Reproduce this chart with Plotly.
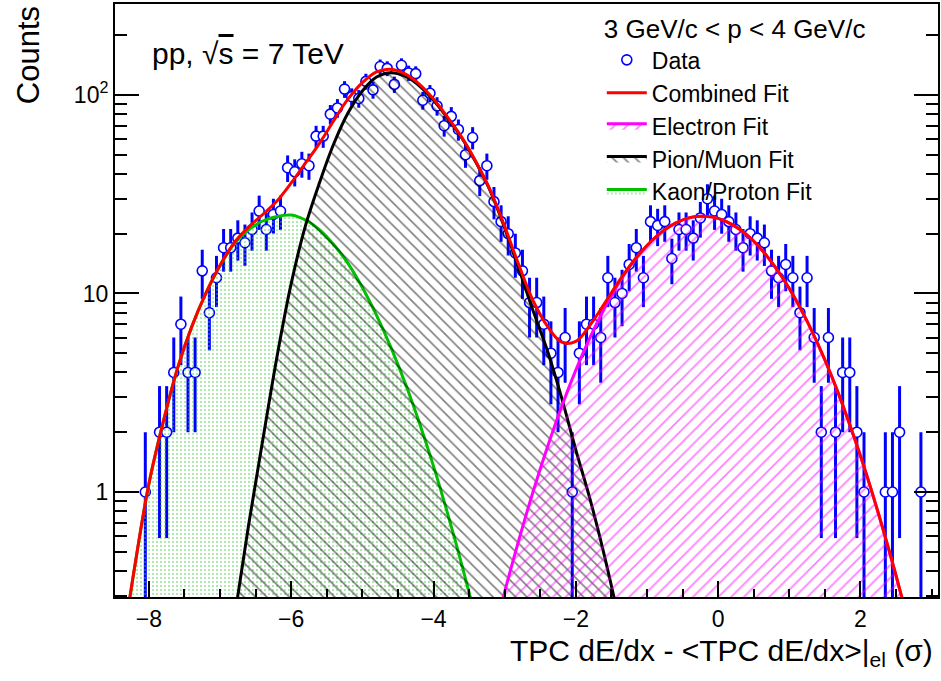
import plotly.graph_objects as go

# ---------------- data ----------------
bin_centers = [-8.05, -7.95, -7.85, -7.75, -7.65, -7.55, -7.45, -7.35, -7.25, -7.15,
               -7.05, -6.95, -6.85, -6.75, -6.65, -6.55, -6.45, -6.35, -6.25, -6.15,
               -6.05, -5.95, -5.85, -5.75, -5.65, -5.55, -5.45, -5.35, -5.25, -5.15,
               -5.05, -4.95, -4.85, -4.75, -4.65, -4.55, -4.45, -4.35, -4.25, -4.15,
               -4.05, -3.95, -3.85, -3.75, -3.65, -3.55, -3.45, -3.35, -3.25, -3.15,
               -3.05, -2.95, -2.85, -2.75, -2.65, -2.55, -2.45, -2.35, -2.25, -2.15,
               -2.05, -1.95, -1.85, -1.75, -1.65, -1.55, -1.45, -1.35, -1.25, -1.15,
               -1.05, -0.95, -0.85, -0.75, -0.65, -0.55, -0.45, -0.35, -0.25, -0.15,
               -0.05, 0.05, 0.15, 0.25, 0.35, 0.45, 0.55, 0.65, 0.75, 0.85,
               0.95, 1.05, 1.15, 1.25, 1.35, 1.45, 1.55, 1.65, 1.75, 1.85,
               1.95, 2.05, 2.15, 2.25, 2.35, 2.45, 2.55, 2.65, 2.75, 2.85]
counts = [1, 0, 2, 2, 4, 7, 4, 4, 13, 8,
          12, 17, 17, 19, 18, 21, 26, 21, 25, 26,
          43, 41, 45, 44, 62, 62, 80, 86, 107, 98,
          96, 117, 106, 139, 136, 113, 141, 129, 128, 94,
          102, 88, 70, 78, 67, 50, 61, 37, 44, 29,
          23, 20, 16, 13, 9, 9, 7, 5, 4, 6,
          1, 5, 7, 7, 6, 12, 9, 10, 14, 17,
          12, 23, 22, 23, 15, 21, 21, 19, 24, 30,
          26, 25, 23, 21, 17, 20, 19, 18, 13, 12,
          14, 12, 8, 12, 6, 2, 6, 2, 4, 4,
          2, 1, 0, 0, 1, 1, 2, 0, 0, 1]

fit_x = [-8.4, -8.2, -8.0, -7.8, -7.6, -7.4, -7.2, -7.0, -6.8, -6.6,
         -6.4, -6.2, -6.0, -5.8, -5.6, -5.4, -5.2, -5.0, -4.8, -4.6,
         -4.4, -4.2, -4.0, -3.8, -3.6, -3.4, -3.2, -3.0, -2.8, -2.6,
         -2.4, -2.2, -2.0, -1.8, -1.6, -1.4, -1.2, -1.0, -0.8, -0.6,
         -0.4, -0.2, 0.0, 0.2, 0.4, 0.6, 0.8, 1.0, 1.2, 1.4,
         1.6, 1.8, 2.0, 2.2, 2.4, 2.6, 2.8]
kaon_fit = [0.141, 0.417, 1.096, 2.239, 4.169, 6.761, 10.0, 13.8, 17.78, 20.89,
            23.17, 24.43, 24.83, 23.44, 20.89, 17.58, 14.13, 10.72, 7.76, 5.37,
            3.55, 2.24, 1.35, 0.776, 0.427, 0.224, 0.112, 0.054, 0.025, 0.011,
            0.004, 0.0015, 0.001, 0.001, 0.001, 0.001, 0.001, 0.001, 0.001, 0.001,
            0.001, 0.001, 0.001, 0.001, 0.001, 0.001, 0.001, 0.001, 0.001, 0.001,
            0.001, 0.001, 0.001, 0.001, 0.001, 0.001, 0.001]
pion_fit = [0.001, 0.001, 0.001, 0.001, 0.001, 0.0044, 0.018, 0.068, 0.229, 0.676,
            1.82, 4.79, 11.2, 21.9, 36.3, 56.9, 81.3, 104.7, 123.0, 129.4,
            124.2, 111.2, 94.0, 76.2, 60.5, 45.5, 32.7, 21.4, 13.3, 8.17,
            5.16, 2.99, 1.63, 0.92, 0.481, 0.233, 0.109, 0.048, 0.02, 0.008,
            0.003, 0.001, 0.001, 0.001, 0.001, 0.001, 0.001, 0.001, 0.001, 0.001,
            0.001, 0.001, 0.001, 0.001, 0.001, 0.001, 0.001]
electron_fit = [0.001, 0.001, 0.001, 0.001, 0.001, 0.001, 0.001, 0.001, 0.001, 0.001,
                0.001, 0.001, 0.001, 0.001, 0.001, 0.001, 0.001, 0.001, 0.001, 0.001,
                0.001, 0.003, 0.007, 0.017, 0.039, 0.082, 0.164, 0.314, 0.574, 1.005,
                1.68, 2.69, 4.11, 6.0, 8.38, 11.2, 14.3, 17.4, 20.3, 22.6,
                24.1, 24.5, 23.9, 22.2, 19.8, 16.8, 13.6, 10.6, 7.87, 5.58,
                3.79, 2.45, 1.52, 0.90, 0.51, 0.277, 0.143]
combined_fit = [e + p + k for e, p, k in zip(electron_fit, pion_fit, kaon_fit)]

y_tick_vals = [1, 10, 100]
y_tick_text = ["1", "10", "10<sup>2</sup>"]
y_minor_vals = [0.3, 0.4, 0.5, 0.6, 0.7, 0.8, 0.9, 2, 3, 4, 5, 6, 7, 8, 9,
                20, 30, 40, 50, 60, 70, 80, 90, 200]
x_tick_vals = [-8, -6, -4, -2, 0, 2]

# only non-empty bins are drawn (as ROOT does on a log scale)
data_x = [x for x, c in zip(bin_centers, counts) if c > 0]
data_y = [c for c in counts if c > 0]
data_err = [c ** 0.5 for c in data_y]

FONT = "Liberation Sans, Arial, Helvetica, sans-serif"

fig = go.Figure()

fig.add_trace(go.Scatter(
    x=data_x, y=data_y, mode="markers", name="Data", legendrank=1,
    marker=dict(symbol="circle", size=10, color="white",
                line=dict(color="#0000ff", width=1.6)),
    error_y=dict(type="data", array=data_err, color="#0000ff", thickness=3, width=0),
))

fig.add_trace(go.Scatter(
    x=fit_x, y=kaon_fit, mode="lines", name="Kaon/Proton Fit", legendrank=5,
    line=dict(color="#00c000", width=3, shape="spline"),
    fill="tozeroy", fillcolor="rgba(0,0,0,0)",
    fillpattern=dict(shape=".", fgcolor="#33cc33", bgcolor="rgba(0,0,0,0)",
                     size=4, solidity=0.22),
))

fig.add_trace(go.Scatter(
    x=fit_x, y=pion_fit, mode="lines", name="Pion/Muon Fit", legendrank=4,
    line=dict(color="black", width=3, shape="spline"),
    fill="tozeroy", fillcolor="rgba(0,0,0,0)",
    fillpattern=dict(shape="\\", fgcolor="black", bgcolor="rgba(0,0,0,0)",
                     size=8, solidity=0.2),
))

fig.add_trace(go.Scatter(
    x=fit_x, y=electron_fit, mode="lines", name="Electron Fit", legendrank=3,
    line=dict(color="#ff00ff", width=3, shape="spline"),
    fill="tozeroy", fillcolor="rgba(0,0,0,0)",
    fillpattern=dict(shape="/", fgcolor="#ff00ff", bgcolor="rgba(0,0,0,0)",
                     size=9, solidity=0.2),
))

fig.add_trace(go.Scatter(
    x=fit_x, y=combined_fit, mode="lines", name="Combined Fit", legendrank=2,
    line=dict(color="#ff0000", width=3, shape="spline"),
))

fig.update_layout(
    width=941, height=681, autosize=False,
    margin=dict(l=115, r=1, t=4, b=84, pad=0),
    paper_bgcolor="white", plot_bgcolor="white",
    font=dict(family=FONT, color="black", size=23),
    showlegend=True,
    legend=dict(
        x=0.5915, y=0.999, xanchor="left", yanchor="top",
        bgcolor="rgba(0,0,0,0)", borderwidth=0,
        font=dict(family=FONT, size=23, color="black"),
        title=dict(text="3 GeV/c &lt; p &lt; 4 GeV/c", font=dict(family=FONT, size=26)),
        itemwidth=40, tracegroupgap=0, traceorder="normal",
    ),
    xaxis=dict(
        range=[-8.476, 3.09], showgrid=False, zeroline=False,
        showline=True, linecolor="black", linewidth=2, mirror=True,
        tickmode="array", tickvals=x_tick_vals,
        ticks="inside", ticklen=16, tickwidth=1.5, tickcolor="black",
        tickfont=dict(family=FONT, size=23),
        minor=dict(ticks="inside", ticklen=8, dtick=0.5, tick0=0, tickwidth=1.5,
                   tickcolor="black", showgrid=False),
    ),
    yaxis=dict(
        type="log", range=[-0.529, 2.458], showgrid=False, zeroline=False,
        showline=True, linecolor="black", linewidth=2, mirror="ticks",
        tickmode="array", tickvals=y_tick_vals, ticktext=y_tick_text,
        ticks="inside", ticklen=24, tickwidth=1.5, tickcolor="black",
        tickfont=dict(family=FONT, size=23),
        minor=dict(ticks="inside", ticklen=12, tickmode="array", tickvals=y_minor_vals,
                   tickwidth=1.5, tickcolor="black", showgrid=False),
    ),
    annotations=[
        dict(text="pp, √<span style=\"text-decoration:overline\">s</span> = 7 TeV",
             xref="paper", yref="paper", x=0.0424, y=0.917,
             xanchor="left", yanchor="middle", showarrow=False,
             font=dict(family=FONT, size=30)),
        dict(text="TPC dE/dx - &lt;TPC dE/dx&gt;|<sub>el</sub> (σ)",
             xref="paper", yref="paper", x=0.9964, y=-0.059,
             xanchor="right", yanchor="top", showarrow=False,
             font=dict(family=FONT, size=30)),
        dict(text="Counts", textangle=-90,
             xref="paper", yref="paper", x=-0.1055, y=1.0,
             xanchor="center", yanchor="top", showarrow=False,
             font=dict(family=FONT, size=31)),
    ],
)

fig.write_html(
    "out.html",
    config={"displayModeBar": False},
    post_script="document.body.style.margin='0';document.body.style.overflow='hidden';",
)
